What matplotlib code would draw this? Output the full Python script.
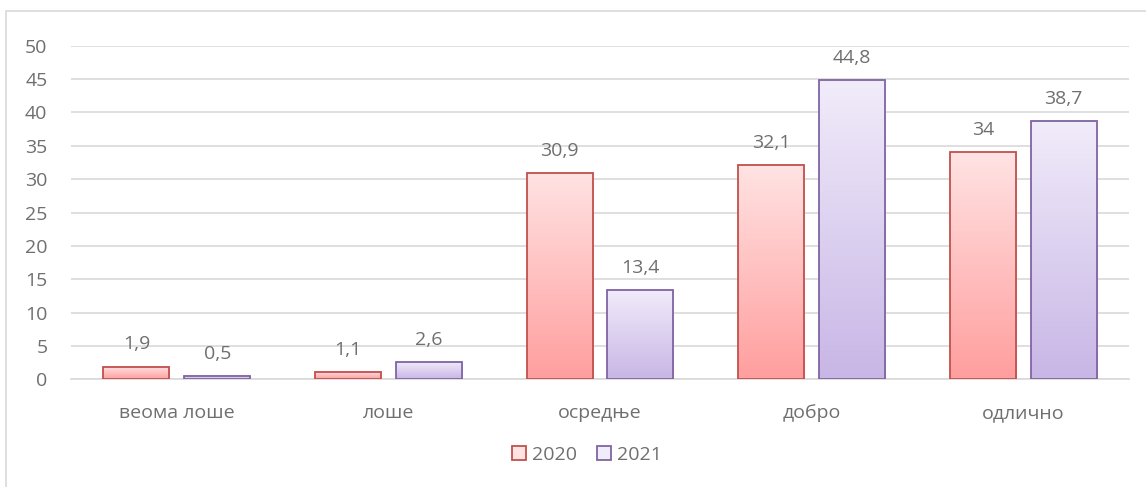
import numpy as np
import matplotlib.pyplot as plt
from matplotlib.colors import LinearSegmentedColormap
from matplotlib.patches import Rectangle

plt.rcParams['font.family'] = ['Open Sans', 'DejaVu Sans']

categories = ['веома лоше', 'лоше', 'осредње', 'добро', 'одлично']
years = ['2020', '2021']
values_2020 = [1.9, 1.1, 30.9, 32.1, 34.0]
values_2021 = [0.5, 2.6, 13.4, 44.8, 38.7]
labels_2020 = ['1,9', '1,1', '30,9', '32,1', '34']
labels_2021 = ['0,5', '2,6', '13,4', '44,8', '38,7']
yticks = [0, 5, 10, 15, 20, 25, 30, 35, 40, 45, 50]

text_grey = '#6f6f6f'
grid_grey = '#d9d9d9'
fs = 14

# per-series styling: edge colour, gradient top, gradient bottom
styles = {
    '2020': ('#c0504d', '#ffe3e3', '#ff9e9e'),
    '2021': ('#8064a2', '#f1ecfa', '#c8b6e6'),
}

fig = plt.figure(figsize=(11.46, 4.87), dpi=100)
# light frame around the chart area
fig.patches.append(Rectangle((6 / 1146, -0.1), 1.2, (487 - 11) / 487 + 0.1,
                             transform=fig.transFigure, fill=False,
                             edgecolor=grid_grey, linewidth=1.2))

ax = fig.add_axes([71 / 1146, (487 - 379.3) / 487,
                   (1129 - 71) / 1146, (379.3 - 45.7) / 487])

x = np.arange(len(categories))
width = 0.312
offset = 0.191


def gradient_bars(xpos, vals, texts, year):
    edge, top, bottom = styles[year]
    cmap = LinearSegmentedColormap.from_list(year, [bottom, top])
    bars = ax.bar(xpos, vals, width, facecolor='none', edgecolor=edge,
                  linewidth=1.3, zorder=3, label=year)
    grad = np.linspace(0, 1, 256).reshape(-1, 1)
    for b, v, t in zip(bars, vals, texts):
        x0 = b.get_x()
        ax.imshow(grad, extent=(x0, x0 + width, 0, v), origin='lower',
                  aspect='auto', cmap=cmap, zorder=2, interpolation='bicubic')
        ax.annotate(t, (x0 + width / 2, v), xytext=(0, 9.5),
                    textcoords='offset points', ha='center', va='bottom',
                    fontsize=fs, color=text_grey)
    return bars


gradient_bars(x - offset, values_2020, labels_2020, '2020')
gradient_bars(x + offset, values_2021, labels_2021, '2021')

ax.set_xlim(-0.5, len(categories) - 0.5)
ax.set_ylim(0, 50)
ax.set_yticks(yticks)
ax.set_xticks(x)
ax.set_xticklabels(categories)
ax.yaxis.grid(True, color=grid_grey, linewidth=1.2, zorder=0)
ax.set_axisbelow(True)
for s in ['top', 'right', 'left']:
    ax.spines[s].set_visible(False)
ax.spines['bottom'].set_color(grid_grey)
ax.spines['bottom'].set_linewidth(1.2)
ax.tick_params(axis='both', length=0, labelsize=fs, labelcolor=text_grey)
ax.tick_params(axis='y', pad=17)
ax.tick_params(axis='x', pad=18)

handles = [Rectangle((0, 0), 1, 1, facecolor=styles[y][1], edgecolor=styles[y][0],
                     linewidth=1.3) for y in years]
fig.legend(handles, years, loc='center', bbox_to_anchor=(0.512, 1 - 455 / 487),
           ncol=2, frameon=False, fontsize=fs, labelcolor=text_grey,
           handlelength=0.75, handleheight=0.75, handletextpad=0.3,
           columnspacing=1.0)

fig.savefig('out.png', dpi=100)
